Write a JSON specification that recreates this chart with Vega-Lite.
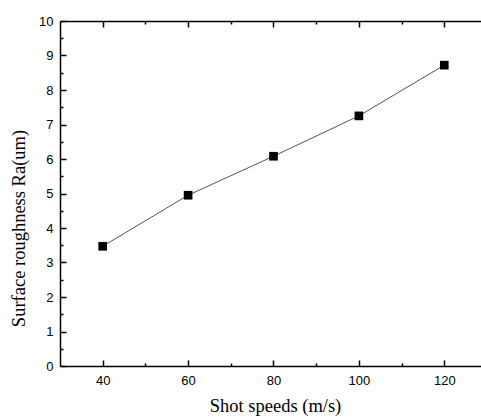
{
  "$schema": "https://vega.github.io/schema/vega-lite/v6.json",
  "width": 421,
  "height": 345,
  "autosize": {"type": "none"},
  "padding": {"left": 60, "top": 21, "right": 0, "bottom": 52},
  "background": "white",
  "config": {"view": {"stroke": null}, "axis": {"grid": false, "domainColor": "black", "tickColor": "black", "domainWidth": 1.5, "tickWidth": 1.5, "labelColor": "black", "titleColor": "black", "labelFont": "Liberation Sans", "labelFontSize": 13, "titleFont": "Liberation Serif", "titleFontSize": 18.5, "titleFontWeight": "normal"}},
  "data": {"values": [
    {"speed": 40, "ra": 3.47},
    {"speed": 60, "ra": 4.95},
    {"speed": 80, "ra": 6.08},
    {"speed": 100, "ra": 7.25},
    {"speed": 120, "ra": 8.72}
  ]},
  "resolve": {"axis": {"x": "independent", "y": "independent"}},
  "layer": [
    {
      "mark": {"type": "line", "color": "#555555", "strokeWidth": 1},
      "encoding": {
        "x": {"field": "speed", "type": "quantitative", "scale": {"domain": [30, 128.6], "nice": false, "zero": false},
              "axis": {"orient": "bottom", "values": [40, 60, 80, 100, 120], "tickSize": -6, "labelPadding": 14, "title": "Shot speeds (m/s)", "titlePadding": 9, "titleX": 215}},
        "y": {"field": "ra", "type": "quantitative", "scale": {"domain": [0, 10], "nice": false},
              "axis": {"orient": "left", "values": [0,1,2,3,4,5,6,7,8,9,10], "tickSize": -6, "labelPadding": 13, "title": "Surface roughness Ra(um)", "titlePadding": 10, "titleY": 207}}
      }
    },
    {
      "mark": {"type": "point", "shape": "square", "filled": true, "color": "black", "size": 75, "opacity": 1},
      "encoding": {
        "x": {"field": "speed", "type": "quantitative",
              "axis": {"orient": "bottom", "values": [50, 70, 90, 110], "tickSize": -3, "labels": false, "domain": false, "title": null}},
        "y": {"field": "ra", "type": "quantitative",
              "axis": {"orient": "left", "values": [0.5,1.5,2.5,3.5,4.5,5.5,6.5,7.5,8.5,9.5], "tickSize": -3, "labels": false, "domain": false, "title": null}}
      }
    },
    {
      "mark": {"type": "point", "opacity": 0},
      "encoding": {
        "x": {"field": "speed", "type": "quantitative",
              "axis": {"orient": "top", "values": [40, 60, 80, 100, 120], "tickSize": -6, "labels": false, "title": null}},
        "y": {"field": "ra", "type": "quantitative", "axis": null}
      }
    },
    {
      "mark": {"type": "point", "opacity": 0},
      "encoding": {
        "x": {"field": "speed", "type": "quantitative",
              "axis": {"orient": "top", "values": [50, 70, 90, 110], "tickSize": -3, "labels": false, "domain": false, "title": null}},
        "y": {"field": "ra", "type": "quantitative", "axis": null}
      }
    }
  ]
}
